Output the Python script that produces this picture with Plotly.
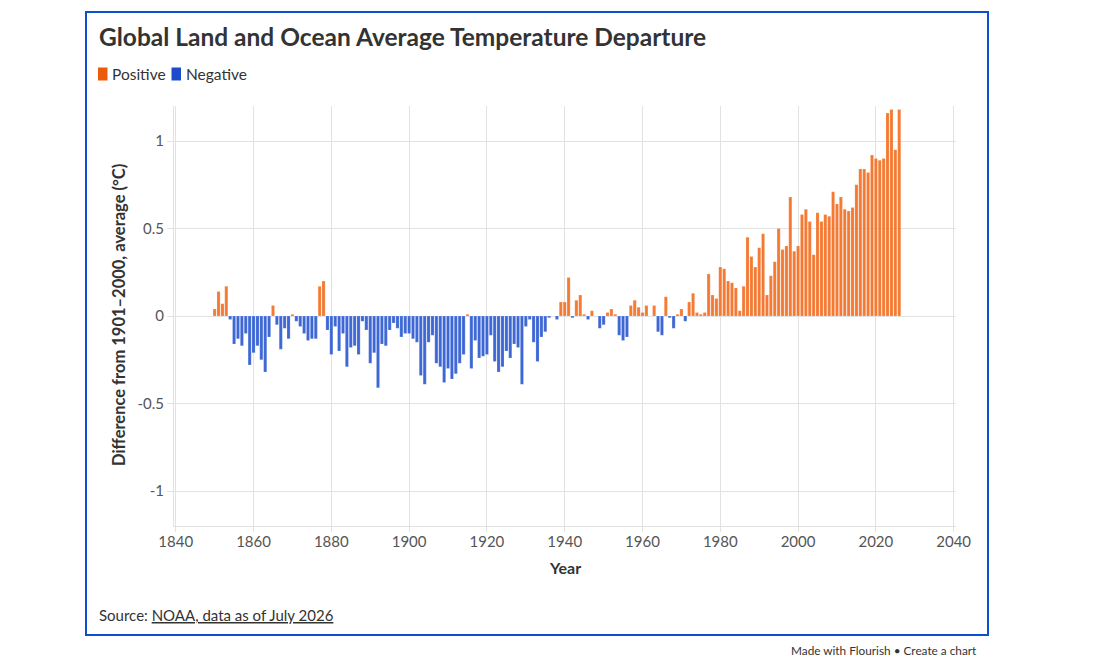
import plotly.graph_objects as go

years = list(range(1850, 2027))
anomalies = [
    0.04, 0.14, 0.07, 0.17, -0.02, -0.16, -0.13, -0.17, -0.10, -0.28,   # 1850-1859
    -0.21, -0.17, -0.25, -0.32, -0.12, 0.06, -0.05, -0.19, -0.07, -0.13,  # 1860-1869
    0.01, -0.03, -0.06, -0.10, -0.14, -0.13, -0.13, 0.17, 0.20, -0.08,    # 1870-1879
    -0.22, -0.06, -0.20, -0.10, -0.29, -0.18, -0.17, -0.22, -0.03, -0.08, # 1880-1889
    -0.27, -0.21, -0.41, -0.16, -0.17, -0.08, -0.04, -0.07, -0.12, -0.10, # 1890-1899
    -0.10, -0.13, -0.15, -0.34, -0.39, -0.15, -0.11, -0.27, -0.29, -0.38, # 1900-1909
    -0.30, -0.36, -0.33, -0.27, -0.22, 0.01, -0.30, -0.14, -0.24, -0.23,  # 1910-1919
    -0.22, -0.11, -0.26, -0.32, -0.29, -0.20, -0.24, -0.16, -0.18, -0.39, # 1920-1929
    -0.06, -0.02, -0.15, -0.26, -0.12, -0.09, -0.01, 0.00, -0.02, 0.08,   # 1930-1939
    0.08, 0.22, -0.01, 0.09, 0.12, 0.01, -0.02, 0.03, 0.00, -0.07,        # 1940-1949
    -0.05, 0.02, 0.04, 0.01, -0.11, -0.14, -0.12, 0.06, 0.09, 0.05,       # 1950-1959
    0.02, 0.06, 0.00, 0.06, -0.09, -0.11, 0.11, -0.01, -0.07, 0.01,       # 1960-1969
    0.04, -0.03, 0.08, 0.13, 0.02, 0.01, 0.02, 0.24, 0.12, 0.10,          # 1970-1979
    0.28, 0.27, 0.20, 0.19, 0.16, 0.03, 0.17, 0.45, 0.34, 0.28,           # 1980-1989
    0.39, 0.47, 0.12, 0.23, 0.31, 0.50, 0.38, 0.40, 0.68, 0.37,           # 1990-1999
    0.40, 0.58, 0.61, 0.54, 0.35, 0.59, 0.54, 0.58, 0.57, 0.71,           # 2000-2009
    0.64, 0.68, 0.61, 0.60, 0.62, 0.75, 0.84, 0.84, 0.82, 0.92,           # 2010-2019
    0.90, 0.89, 0.90, 1.16, 1.18, 0.95, 1.18,                             # 2020-2026
]

y_tickvals = [-1, -0.5, 0, 0.5, 1]
y_ticktext = ["-1", "-0.5", "0", "0.5", "1"]
x_tickvals = [1840, 1860, 1880, 1900, 1920, 1940, 1960, 1980, 2000, 2020, 2040]

pos_x = [y for y, v in zip(years, anomalies) if v >= 0]
pos_y = [v for v in anomalies if v >= 0]
neg_x = [y for y, v in zip(years, anomalies) if v < 0]
neg_y = [v for v in anomalies if v < 0]

ORANGE_BAR = "#f47a33"
BLUE_BAR = "#3d67d5"
ORANGE_KEY = "#ec5b0c"
BLUE_KEY = "#1b4ccb"
GRID = "#e2e2e2"
FONT = "Lato"

fig = go.Figure()
fig.add_trace(go.Bar(x=pos_x, y=pos_y, name="Positive", marker=dict(color=ORANGE_BAR, line=dict(color="rgba(255,255,255,0.35)", width=0.5)), showlegend=False))
fig.add_trace(go.Bar(x=neg_x, y=neg_y, name="Negative", marker=dict(color=BLUE_BAR, line=dict(color="rgba(255,255,255,0.35)", width=0.5)), showlegend=False))

OFF = 8  # page body margin
W, H = 1094 - OFF, 671 - OFF
L, T = 174 - OFF, 106 - OFF
PW, PH = 782, 420
R, B = W - L - PW, H - T - PH

def px(x):
    return (x - OFF - L) / PW

def py(y):
    return 1 - (y - OFF - T) / PH

fig.update_layout(
    width=W, height=H,
    margin=dict(l=L, r=R, t=T, b=B, autoexpand=False),
    paper_bgcolor="white", plot_bgcolor="white",
    barmode="overlay", bargap=0.2,
    font=dict(family=FONT, color="#555555", size=15),
    showlegend=False,
    xaxis=dict(
        range=[1839.55, 2040.6], tickvals=x_tickvals, showgrid=True, gridcolor=GRID, gridwidth=1,
        showline=True, linecolor=GRID, linewidth=1, ticks="outside", ticklen=5, tickcolor=GRID,
        ticklabelstandoff=-3,
        tickfont=dict(size=15, color="#555555"), zeroline=False, fixedrange=True,
    ),
    yaxis=dict(
        range=[-1.2, 1.2], tickvals=y_tickvals, ticktext=y_ticktext, showgrid=True, gridcolor=GRID,
        gridwidth=1, zeroline=True, zerolinecolor=GRID, zerolinewidth=1,
        showline=True, linecolor=GRID, linewidth=1, ticks="outside", ticklen=6, tickcolor=GRID,
        tickfont=dict(size=15, color="#555555"), fixedrange=True,
    ),
)

shapes = [
    dict(type="rect", xref="paper", yref="paper", x0=px(86), x1=px(988), y0=py(635), y1=py(12),
         line=dict(color="#0b50d0", width=2), fillcolor="rgba(0,0,0,0)", layer="above"),
    dict(type="rect", xref="paper", yref="paper", x0=px(98), x1=px(107.5), y0=py(80.5), y1=py(67.5),
         line=dict(width=0), fillcolor=ORANGE_KEY),
    dict(type="rect", xref="paper", yref="paper", x0=px(171.5), x1=px(181), y0=py(80.5), y1=py(67.5),
         line=dict(width=0), fillcolor=BLUE_KEY),
]

annotations = [
    dict(text="<b>Global Land and Ocean Average Temperature Departure</b>", xref="paper", yref="paper",
         x=px(97), y=py(37), xanchor="left", yanchor="middle", showarrow=False,
         font=dict(size=24.5, color="#333333", family=FONT)),
    dict(text="Positive", xref="paper", yref="paper", x=px(110), y=py(74), xanchor="left", yanchor="middle",
         showarrow=False, font=dict(size=15.5, color="#333333", family=FONT)),
    dict(text="Negative", xref="paper", yref="paper", x=px(184), y=py(74), xanchor="left", yanchor="middle",
         showarrow=False, font=dict(size=15.5, color="#333333", family=FONT)),
    dict(text="<b>Difference from 1901–2000, average (°C)</b>", xref="paper", yref="paper", x=px(119), y=py(315),
         xanchor="center", yanchor="middle", textangle=-90, showarrow=False,
         font=dict(size=16.5, color="#333333", family=FONT)),
    dict(text="<b>Year</b>", xref="paper", yref="paper", x=px(565), y=py(567.5), xanchor="center", yanchor="middle",
         showarrow=False, font=dict(size=16, color="#333333", family=FONT)),
    dict(text="Source: <u>NOAA, data as of July 2026</u>", xref="paper", yref="paper", x=px(97), y=py(615),
         xanchor="left", yanchor="middle", showarrow=False, font=dict(size=15, color="#333333", family=FONT)),
    dict(text="Made with Flourish • Create a chart", xref="paper", yref="paper", x=px(979), y=py(650),
         xanchor="right", yanchor="middle", showarrow=False, font=dict(size=11.8, color="#333333", family=FONT)),
]

fig.update_layout(shapes=shapes, annotations=annotations)
fig.write_html("out.html")
